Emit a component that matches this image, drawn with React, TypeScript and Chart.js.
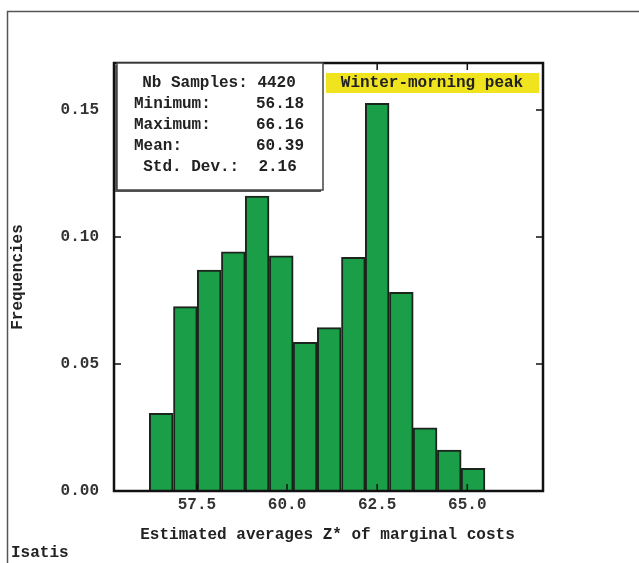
import React, { useEffect, useRef } from "react";
import { Chart, registerables } from "chart.js";

Chart.register(...registerables);

// Histogram bin centres (bin width ≈ 0.665) and frequencies
const binCenters = [56.51, 57.18, 57.84, 58.51, 59.17, 59.84, 60.5, 61.17, 61.84, 62.5, 63.17, 63.83, 64.5, 65.16];
const frequencies = [0.0306, 0.0726, 0.087, 0.0942, 0.1161, 0.0926, 0.0585, 0.0643, 0.092, 0.1526, 0.0782, 0.0249, 0.0161, 0.0089];

const xTickLabels = ["57.5", "60.0", "62.5", "65.0"];
const yTickLabels = ["0.00", "0.05", "0.10", "0.15"];

const statLabels = ["Minimum:", "Maximum:", "Mean:"];
const statValues = ["56.18", "66.16", "60.39"];
const nbSamplesText = "Nb Samples: 4420";
const stdDevText = "Std. Dev.:  2.16";
const seasonLabel = "Winter-morning peak";
const xTitle = "Estimated averages Z* of marginal costs";
const yTitle = "Frequencies";
const footer = "Isatis";

const FONT = "bold 16px 'Liberation Mono', 'DejaVu Sans Mono', monospace";

const overlay = {
  id: "overlay",
  afterDatasetsDraw(chart: any) {
    const ctx = chart.ctx as CanvasRenderingContext2D;
    const { left, right, top, bottom } = chart.chartArea;
    const xs = chart.scales.x;
    const ys = chart.scales.y;
    ctx.save();
    ctx.strokeStyle = "#111";
    ctx.lineWidth = 1.5;
    const tl = 7;
    xs.ticks.forEach((t: any) => {
      const px = xs.getPixelForValue(t.value);
      ctx.beginPath();
      ctx.moveTo(px, bottom);
      ctx.lineTo(px, bottom - tl);
      ctx.moveTo(px, top);
      ctx.lineTo(px, top + tl);
      ctx.stroke();
    });
    ys.ticks.forEach((t: any) => {
      if (t.value === 0) return;
      const py = ys.getPixelForValue(t.value);
      ctx.beginPath();
      ctx.moveTo(left, py);
      ctx.lineTo(left + tl, py);
      ctx.moveTo(right, py);
      ctx.lineTo(right - tl, py);
      ctx.stroke();
    });
    // plot frame
    ctx.lineWidth = 2.5;
    ctx.strokeStyle = "#111";
    ctx.strokeRect(left, top, right - left, bottom - top);
    ctx.restore();
  },
  afterDraw(chart: any) {
    const ctx = chart.ctx as CanvasRenderingContext2D;
    const { left, right, top, bottom } = chart.chartArea;
    ctx.save();
    // outer frame lines
    ctx.strokeStyle = "#555";
    ctx.lineWidth = 1.5;
    ctx.beginPath();
    ctx.moveTo(639, 11.5);
    ctx.lineTo(7.5, 11.5);
    ctx.lineTo(7.5, 563);
    ctx.stroke();

    ctx.font = FONT;
    ctx.fillStyle = "#222";
    // axis titles
    ctx.textAlign = "center";
    ctx.textBaseline = "middle";
    ctx.fillText(xTitle, (left + right) / 2 - 1, 535);
    ctx.save();
    ctx.translate(18, (top + bottom) / 2);
    ctx.rotate(-Math.PI / 2);
    ctx.fillText(yTitle, 0, 0);
    ctx.restore();
    ctx.textAlign = "left";
    ctx.fillText(footer, 11, 553);

    // stats box
    const bx = 116, by = 63, bw = 206, bh = 127;
    ctx.fillStyle = "#555";
    ctx.fillRect(bx - 1, by + 2, bw, bh);
    ctx.fillStyle = "#fff";
    ctx.fillRect(bx + 1, by, bw, bh);
    ctx.strokeStyle = "#444";
    ctx.lineWidth = 1.5;
    ctx.strokeRect(bx + 1, by, bw, bh);
    ctx.fillStyle = "#222";
    ctx.textAlign = "center";
    ctx.fillText(nbSamplesText, 219, 83);
    statLabels.forEach((l, i) => {
      ctx.textAlign = "left";
      ctx.fillText(l, 134, 104 + i * 21);
      ctx.textAlign = "right";
      ctx.fillText(statValues[i], 304, 104 + i * 21);
    });
    ctx.textAlign = "center";
    ctx.fillText(stdDevText, 220, 167);

    // yellow label
    ctx.fillStyle = "#efe41e";
    ctx.fillRect(326, 73, 213, 20);
    ctx.fillStyle = "#222";
    ctx.fillText(seasonLabel, 432, 83);
    ctx.restore();
  },
};

export default function App() {
  const ref = useRef<HTMLCanvasElement>(null);
  useEffect(() => {
    const chart = new Chart(ref.current as HTMLCanvasElement, {
      type: "bar",
      data: {
        datasets: [
          {
            data: binCenters.map((x, i) => ({ x, y: frequencies[i] })),
            backgroundColor: "#1b9e48",
            borderColor: "#1a261c",
            borderWidth: 2,
            barPercentage: 1,
            categoryPercentage: 1,
            grouped: false,
          },
        ],
      },
      options: {
        animation: false,
        responsive: false,
        maintainAspectRatio: false,
        layout: { padding: { left: 0, top: 63, right: 96, bottom: 0 } },
        plugins: { legend: { display: false }, tooltip: { enabled: false } },
        scales: {
          x: {
            type: "linear",
            offset: false,
            min: 55.2,
            max: 67.1,
            grid: { display: false, drawTicks: false, offset: false },
            border: { display: false },
            ticks: {
              stepSize: 2.5,
              includeBounds: false,
              padding: 4,
              color: "#333",
              font: { family: "'Liberation Mono', monospace", size: 16, weight: "bold" },
              callback: (v: any) => {
                const s = Number(v).toFixed(1);
                return xTickLabels.includes(s) ? s : "";
              },
            },
            afterFit: (s: any) => {
              s.height = 72;
            },
          },
          y: {
            type: "linear",
            min: 0,
            max: 0.1685,
            grid: { display: false, drawTicks: false },
            border: { display: false },
            ticks: {
              stepSize: 0.05,
              includeBounds: false,
              padding: 15,
              color: "#333",
              font: { family: "'Liberation Mono', monospace", size: 16, weight: "bold" },
              callback: (v: any) => {
                const s = Number(v).toFixed(2);
                return yTickLabels.includes(s) ? s : "";
              },
            },
            afterFit: (s: any) => {
              s.width = 114;
            },
          },
        },
      },
      plugins: [overlay],
    });
    return () => chart.destroy();
  }, []);
  return (
    <div style={{ position: "fixed", left: 0, top: 0, width: 639, height: 563, background: "#fff" }}>
      <canvas ref={ref} width={639} height={563} style={{ display: "block" }} />
    </div>
  );
}
